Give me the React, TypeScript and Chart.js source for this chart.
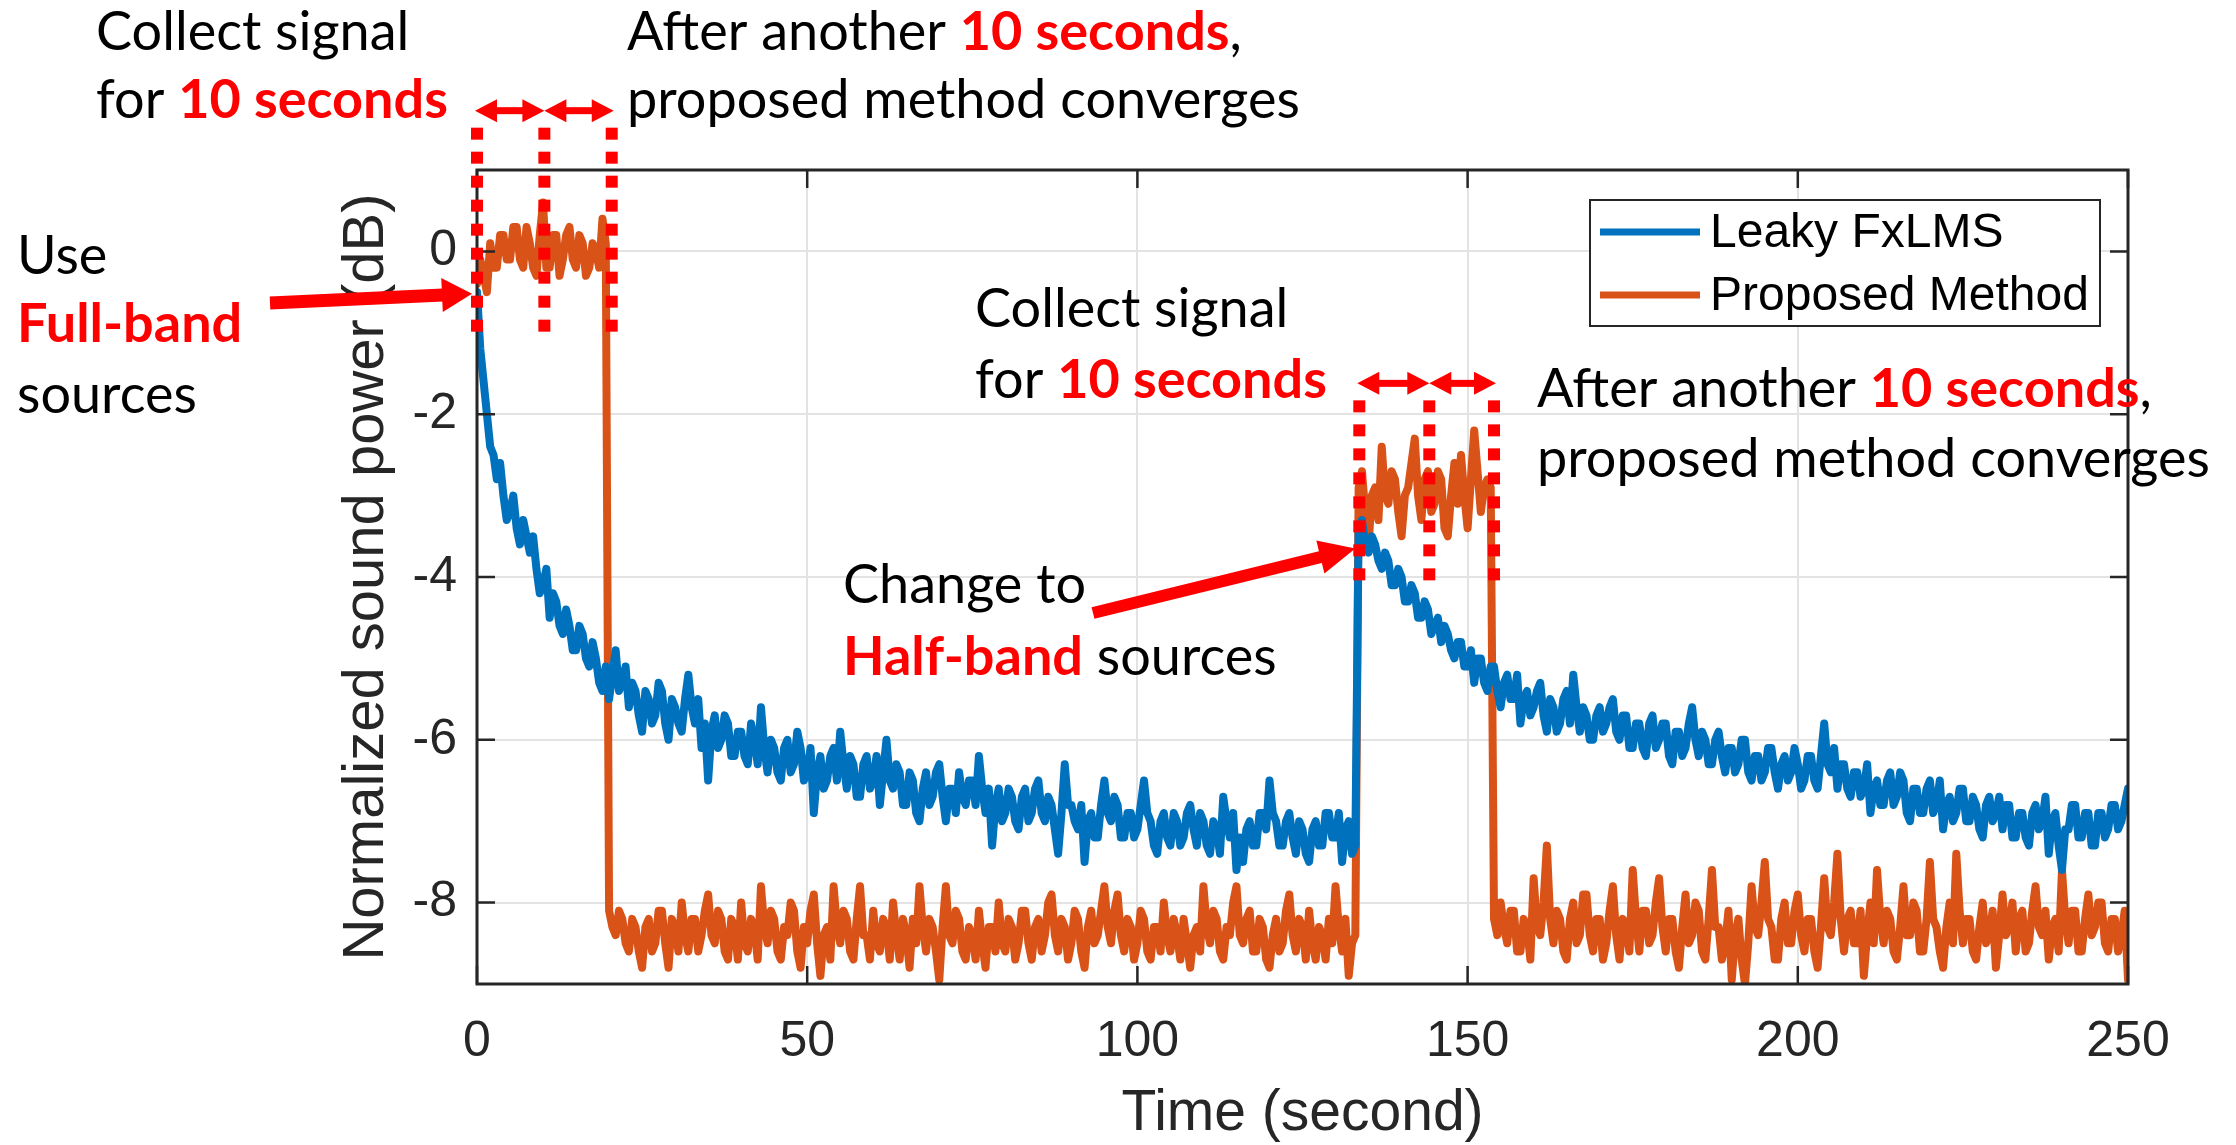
import { useEffect, useRef } from "react";
import { Chart, registerables } from "chart.js";

Chart.register(...registerables);

// ---------------- data (2 samples per second, t = 0 … 250 s) ----------------
const TIME_STEP_S = 0.5;

const LEAKY_FXLMS = [
  -0.5, -1.2, -1.6, -2.0, -2.4, -2.5, -2.8, -2.6, -3.0, -3.3,
  -3.2, -3.0, -3.4, -3.6, -3.3, -3.5, -3.7, -3.5, -3.9, -4.2,
  -4.1, -3.9, -4.5, -4.2, -4.3, -4.6, -4.7, -4.4, -4.6, -4.9,
  -4.9, -4.6, -4.7, -5.0, -5.1, -4.8, -5.0, -5.3, -5.4, -5.1,
  -5.5, -5.2, -4.9, -5.4, -5.3, -5.1, -5.6, -5.3, -5.4, -5.7,
  -5.9, -5.4, -5.5, -5.8, -5.7, -5.3, -5.4, -5.8, -6.0, -5.5,
  -5.6, -5.8, -5.9, -5.5, -5.2, -5.6, -5.8, -5.5, -6.1, -5.8,
  -6.5, -5.9, -5.7, -6.1, -6.0, -5.7, -5.8, -6.2, -6.2, -5.9,
  -5.9, -6.2, -6.3, -5.8, -6.0, -6.3, -5.6, -6.1, -6.4, -6.0,
  -6.1, -6.4, -6.5, -6.1, -6.0, -6.4, -6.3, -5.9, -6.1, -6.5,
  -6.4, -6.1, -6.9, -6.4, -6.2, -6.6, -6.5, -6.2, -6.1, -6.5,
  -5.9, -6.3, -6.6, -6.2, -6.3, -6.7, -6.7, -6.3, -6.2, -6.6,
  -6.5, -6.2, -6.8, -6.4, -6.0, -6.5, -6.6, -6.3, -6.4, -6.8,
  -6.8, -6.4, -6.5, -6.9, -7.0, -6.6, -6.4, -6.8, -6.7, -6.4,
  -6.3, -6.7, -7.0, -6.6, -6.6, -6.9, -6.4, -6.7, -6.8, -6.5,
  -6.5, -6.8, -6.2, -6.6, -6.9, -6.6, -7.3, -6.8, -6.6, -7.0,
  -6.9, -6.6, -6.7, -7.0, -7.1, -6.7, -6.6, -7.0, -6.9, -6.6,
  -6.5, -6.9, -7.0, -6.7, -6.8, -7.1, -7.4, -6.9, -6.3, -6.8,
  -6.8, -7.0, -7.1, -6.8, -7.5, -7.0, -6.9, -7.2, -7.2, -6.8,
  -6.5, -6.9, -7.0, -6.7, -6.8, -7.2, -7.2, -6.9, -6.9, -7.2,
  -7.1, -6.8, -6.5, -6.9, -7.0, -7.3, -7.4, -7.0, -6.9, -7.2,
  -7.3, -6.9, -7.0, -7.3, -7.2, -6.9, -6.8, -7.1, -7.3, -6.9,
  -7.0, -7.3, -7.4, -7.0, -7.1, -7.4, -6.7, -7.0, -7.2, -6.9,
  -7.6, -7.2, -7.5, -7.1, -7.0, -7.3, -7.3, -6.9, -6.9, -7.1,
  -6.5, -6.9, -7.0, -7.3, -7.3, -7.0, -6.9, -7.2, -7.4, -7.0,
  -7.1, -7.4, -7.5, -7.1, -7.0, -7.3, -7.3, -6.9, -6.9, -7.2,
  -7.2, -6.9, -7.5, -7.1, -7.0, -7.4, -7.3, -3.4, -3.3, -3.6,
  -3.7, -3.5, -3.6, -3.8, -3.9, -3.7, -3.8, -4.1, -4.1, -3.9,
  -4.0, -4.3, -4.3, -4.1, -4.2, -4.5, -4.5, -4.3, -4.4, -4.7,
  -4.6, -4.5, -4.8, -4.6, -4.7, -4.9, -5.0, -4.8, -4.8, -5.1,
  -5.1, -4.9, -5.3, -5.0, -5.0, -5.3, -5.4, -5.1, -5.1, -5.4,
  -5.6, -5.3, -5.2, -5.5, -5.5, -5.2, -5.8, -5.5, -5.4, -5.7,
  -5.6, -5.4, -5.3, -5.7, -5.9, -5.5, -5.6, -5.9, -5.8, -5.5,
  -5.4, -5.8, -5.2, -5.6, -5.9, -5.6, -5.7, -6.0, -6.0, -5.7,
  -5.6, -5.9, -5.8, -5.6, -5.5, -5.9, -6.0, -5.7, -5.7, -6.1,
  -6.1, -5.8, -5.8, -6.1, -6.2, -5.8, -5.7, -6.1, -6.0, -5.8,
  -5.8, -6.2, -6.3, -5.9, -5.9, -6.2, -6.1, -5.8, -5.6, -6.0,
  -6.2, -5.9, -6.0, -6.3, -6.3, -6.0, -5.9, -6.2, -6.4, -6.1,
  -6.1, -6.4, -6.3, -6.0, -6.0, -6.4, -6.5, -6.2, -6.2, -6.5,
  -6.4, -6.1, -6.1, -6.4, -6.6, -6.3, -6.2, -6.5, -6.4, -6.1,
  -6.3, -6.6, -6.5, -6.2, -6.2, -6.5, -6.6, -6.2, -5.8, -6.3,
  -6.4, -6.1, -6.6, -6.3, -6.3, -6.6, -6.7, -6.4, -6.4, -6.7,
  -6.6, -6.3, -6.9, -6.6, -6.5, -6.8, -6.8, -6.5, -6.4, -6.8,
  -6.7, -6.4, -6.5, -6.9, -7.0, -6.6, -6.6, -6.9, -6.9, -6.6,
  -6.5, -6.9, -6.8, -6.5, -7.1, -6.8, -6.7, -7.0, -6.9, -6.6,
  -6.6, -7.0, -7.0, -6.7, -6.8, -7.1, -7.2, -6.8, -6.7, -7.0,
  -6.9, -6.7, -7.1, -6.8, -6.8, -7.2, -7.2, -6.9, -6.9, -7.2,
  -7.3, -6.9, -6.8, -7.1, -7.0, -6.7, -7.4, -7.0, -6.9, -7.3,
  -7.6, -7.1, -7.1, -6.8, -6.8, -7.2, -7.2, -6.9, -6.9, -7.3,
  -7.3, -6.9, -6.9, -7.2, -7.1, -6.8, -6.8, -7.1, -7.0, -6.8,
  -6.6,
];

const PROPOSED = [
  -0.4, -0.1, -0.3, -0.5, 0.1, -0.2, -0.2, 0.2, 0.2, -0.1,
  -0.1, 0.3, 0.3, -0.1, -0.2, 0.3, 0.1, -0.2, -0.3, 0.2,
  0.6, -0.2, -0.2, 0.2, 0.2, -0.3, -0.1, 0.2, 0.3, -0.1,
  -0.2, 0.2, 0.1, -0.3, -0.2, 0.1, 0.0, -0.2, 0.4, 0.1,
  -8.1, -8.3, -8.4, -8.1, -8.2, -8.5, -8.6, -8.2, -8.3, -8.6,
  -8.8, -8.3, -8.2, -8.6, -8.5, -8.1, -8.1, -8.5, -8.8, -8.2,
  -8.3, -8.6, -8.0, -8.4, -8.6, -8.2, -8.2, -8.6, -8.4, -8.1,
  -7.9, -8.4, -8.5, -8.1, -8.2, -8.6, -8.7, -8.2, -8.3, -8.7,
  -8.0, -8.5, -8.6, -8.2, -8.3, -8.7, -7.8, -8.3, -8.5, -8.1,
  -8.2, -8.6, -8.7, -8.3, -8.4, -8.0, -8.1, -8.6, -8.8, -8.3,
  -8.5, -8.1, -7.9, -8.5, -8.9, -8.4, -8.3, -8.7, -7.8, -8.3,
  -8.5, -8.1, -8.2, -8.6, -8.7, -8.2, -7.8, -8.4, -8.4, -8.7,
  -8.1, -8.5, -8.6, -8.2, -8.3, -8.7, -8.0, -8.4, -8.7, -8.2,
  -8.4, -8.8, -8.2, -8.5, -7.8, -8.3, -8.6, -8.2, -8.3, -8.6,
  -8.95, -8.3, -7.8, -8.4, -8.5, -8.1, -8.2, -8.6, -8.7, -8.3,
  -8.4, -8.7, -8.1, -8.5, -8.8, -8.3, -8.3, -8.6, -8.0, -8.5,
  -8.6, -8.2, -8.3, -8.7, -8.5, -8.1, -8.1, -8.5, -8.7, -8.3,
  -8.2, -8.6, -8.4, -8.0, -7.9, -8.4, -8.6, -8.2, -8.3, -8.7,
  -8.5, -8.1, -8.2, -8.6, -8.8, -8.3, -8.1, -8.5, -8.4, -8.1,
  -7.8, -8.3, -8.5, -8.1, -7.9, -8.4, -8.6, -8.2, -8.3, -8.7,
  -8.5, -8.1, -8.2, -8.6, -8.7, -8.3, -8.3, -8.6, -8.0, -8.4,
  -8.6, -8.2, -8.4, -8.7, -8.2, -8.5, -8.8, -8.4, -8.3, -8.6,
  -7.8, -8.3, -8.5, -8.1, -8.2, -8.6, -8.7, -8.3, -8.4, -8.0,
  -7.8, -8.4, -8.5, -8.2, -8.1, -8.6, -8.6, -8.2, -8.3, -8.7,
  -8.8, -8.4, -8.2, -8.6, -8.5, -8.1, -7.9, -8.4, -8.6, -8.2,
  -8.3, -8.7, -8.1, -8.5, -8.7, -8.3, -8.4, -8.7, -8.2, -8.5,
  -7.8, -8.3, -8.6, -8.2, -8.9, -8.5, -8.4, -2.9, -2.7, -3.2,
  -3.6, -3.0, -2.9, -3.3, -2.4, -3.0, -3.1, -2.7, -2.8, -3.2,
  -3.5, -3.0, -2.9, -2.6, -2.3, -3.0, -3.3, -2.8, -2.7, -3.2,
  -3.1, -2.7, -2.8, -3.4, -3.5, -3.0, -2.6, -3.1, -2.5, -3.0,
  -3.4, -2.8, -2.2, -2.7, -3.2, -2.9, -2.8, -2.9, -8.2, -8.4,
  -8.0, -8.3, -8.5, -8.1, -8.1, -8.6, -8.6, -8.2, -8.3, -8.7,
  -7.7, -8.3, -8.4, -8.0, -7.3, -8.2, -8.5, -8.1, -8.2, -8.6,
  -8.7, -8.2, -8.0, -8.5, -8.4, -7.9, -7.9, -8.4, -8.6, -8.2,
  -8.2, -8.7, -8.5, -8.1, -7.8, -8.4, -8.7, -8.2, -8.3, -8.6,
  -7.6, -8.2, -8.6, -8.1, -8.1, -8.5, -8.4, -8.0, -7.7, -8.3,
  -8.6, -8.2, -8.2, -8.6, -8.8, -8.3, -7.9, -8.5, -8.4, -8.0,
  -8.1, -8.6, -8.7, -8.2, -7.6, -8.3, -8.3, -8.7, -8.5, -8.1,
  -8.95, -8.4, -8.2, -8.7, -9.0, -8.5, -7.8, -8.3, -8.4, -8.0,
  -7.5, -8.2, -8.3, -8.7, -8.7, -8.2, -8.0, -8.5, -8.5, -8.1,
  -7.9, -8.4, -8.6, -8.2, -8.2, -8.6, -8.8, -8.3, -7.7, -8.3,
  -8.4, -8.0, -7.4, -8.2, -8.6, -8.2, -8.1, -8.5, -8.5, -8.1,
  -8.9, -8.4, -8.0, -8.5, -7.6, -8.2, -8.5, -8.1, -8.2, -8.6,
  -8.7, -8.3, -7.8, -8.4, -8.4, -8.0, -8.1, -8.6, -8.6, -8.2,
  -7.5, -8.2, -8.3, -8.6, -8.8, -8.3, -8.0, -8.5, -7.4, -8.1,
  -8.5, -8.2, -8.2, -8.6, -8.7, -8.3, -8.0, -8.5, -8.4, -8.1,
  -8.8, -8.4, -7.9, -8.4, -8.3, -8.0, -8.6, -8.2, -8.1, -8.6,
  -8.5, -8.1, -7.8, -8.3, -8.4, -8.1, -8.7, -8.3, -8.2, -8.6,
  -7.6, -8.2, -8.5, -8.1, -8.1, -8.6, -8.6, -8.2, -7.9, -8.4,
  -8.3, -8.0, -8.0, -8.5, -8.6, -8.2, -8.2, -8.6, -8.4, -8.1,
  -8.95,
];

const SERIES_LABELS = ["Leaky FxLMS", "Proposed Method"];
const SERIES_COLORS = ["#0072BD", "#D95319"];
const X_TICKS = [0, 50, 100, 150, 200, 250];
const Y_TICKS = [-8, -6, -4, -2, 0];
const X_RANGE = [0, 250];
const Y_RANGE = [-9, 1];
const X_TITLE = "Time (second)";
const Y_TITLE = "Normalized sound power (dB)";

// annotation marks (seconds / dB)
const FIRST_MARKS_S = [0, 10.2, 20.4];
const SECOND_MARKS_S = [133.6, 144.2, 154.0];
const FIRST_MARK_SPAN_DB = [1.52, -1.0];
const SECOND_MARK_SPAN_DB = [-1.83, -4.32];

// annotation texts: [text, highlighted]
type Run = [string, boolean];
const NOTES: { x: number; y: number; runs: Run[] }[] = [
  { x: 96, y: 50, runs: [["Collect signal", false]] },
  { x: 96, y: 118, runs: [["for ", false], ["10 seconds", true]] },
  { x: 627, y: 50, runs: [["After another ", false], ["10 seconds", true], [",", false]] },
  { x: 627, y: 118, runs: [["proposed method converges", false]] },
  { x: 17, y: 274, runs: [["Use", false]] },
  { x: 17, y: 342, runs: [["Full-band", true]] },
  { x: 17, y: 413, runs: [["sources", false]] },
  { x: 975, y: 327, runs: [["Collect signal", false]] },
  { x: 975, y: 398, runs: [["for ", false], ["10 seconds", true]] },
  { x: 1537, y: 407, runs: [["After another ", false], ["10 seconds", true], [",", false]] },
  { x: 1537, y: 477, runs: [["proposed method converges", false]] },
  { x: 843, y: 603, runs: [["Change to", false]] },
  { x: 843, y: 675, runs: [["Half-band", true], [" sources", false]] },
];

const RED = "#FF0000";
const AXIS_COLOR = "#262626";
const NOTE_FONT = "Lato";
const NOTE_SIZE = 54;
const AXIS_FONT = "'Liberation Sans', Arial, sans-serif";

function solidArrow(ctx: CanvasRenderingContext2D, x1: number, y1: number, x2: number, y2: number, shaftW: number, headL: number, headHalf: number) {
  const ang = Math.atan2(y2 - y1, x2 - x1);
  const len = Math.hypot(x2 - x1, y2 - y1);
  ctx.save();
  ctx.translate(x1, y1);
  ctx.rotate(ang);
  ctx.fillStyle = RED;
  ctx.fillRect(0, -shaftW / 2, len - headL + 1, shaftW);
  ctx.beginPath();
  ctx.moveTo(len, 0);
  ctx.lineTo(len - headL, -headHalf);
  ctx.lineTo(len - headL, headHalf);
  ctx.closePath();
  ctx.fill();
  ctx.restore();
}

function doubleArrow(ctx: CanvasRenderingContext2D, x1: number, x2: number, y: number) {
  const headL = 22, headHalf = 11.5, shaftW = 7;
  ctx.save();
  ctx.fillStyle = RED;
  ctx.fillRect(x1 + headL - 1, y - shaftW / 2, x2 - x1 - 2 * headL + 2, shaftW);
  ctx.beginPath();
  ctx.moveTo(x1, y);
  ctx.lineTo(x1 + headL, y - headHalf);
  ctx.lineTo(x1 + headL, y + headHalf);
  ctx.closePath();
  ctx.fill();
  ctx.beginPath();
  ctx.moveTo(x2, y);
  ctx.lineTo(x2 - headL, y - headHalf);
  ctx.lineTo(x2 - headL, y + headHalf);
  ctx.closePath();
  ctx.fill();
  ctx.restore();
}

function dottedLine(ctx: CanvasRenderingContext2D, x: number, yTop: number, yBot: number) {
  ctx.save();
  ctx.fillStyle = RED;
  const dot = 12, period = 24;
  for (let yy = yTop; yy + dot <= yBot + 1; yy += period) {
    ctx.fillRect(x - dot / 2, yy, dot, dot);
  }
  ctx.restore();
}

const overlayPlugin = {
  id: "overlay",
  afterDatasetsDraw(chart: any) {
    const { ctx, chartArea: a, scales } = chart;
    const x = scales.x, y = scales.y;
    ctx.save();
    // box
    ctx.strokeStyle = AXIS_COLOR;
    ctx.lineWidth = 3;
    ctx.strokeRect(a.left, a.top, a.right - a.left, a.bottom - a.top);
    // inward ticks
    ctx.lineWidth = 2.5;
    const TL = 18;
    ctx.beginPath();
    X_TICKS.forEach((v) => {
      const px = x.getPixelForValue(v);
      ctx.moveTo(px, a.bottom);
      ctx.lineTo(px, a.bottom - TL);
      ctx.moveTo(px, a.top);
      ctx.lineTo(px, a.top + TL);
    });
    Y_TICKS.forEach((v) => {
      const py = y.getPixelForValue(v);
      ctx.moveTo(a.left, py);
      ctx.lineTo(a.left + TL, py);
      ctx.moveTo(a.right, py);
      ctx.lineTo(a.right - TL, py);
    });
    ctx.stroke();

    // legend
    const lx = a.right - 538, ly = a.top + 30, lw = 510, lh = 126;
    ctx.fillStyle = "#ffffff";
    ctx.fillRect(lx, ly, lw, lh);
    ctx.strokeStyle = AXIS_COLOR;
    ctx.lineWidth = 2;
    ctx.strokeRect(lx, ly, lw, lh);
    ctx.font = `48px ${AXIS_FONT}`;
    ctx.textBaseline = "middle";
    ctx.textAlign = "left";
    chart.data.datasets.forEach((ds: any, i: number) => {
      const rowY = ly + 32 + i * 63;
      ctx.strokeStyle = ds.borderColor;
      ctx.lineWidth = 7;
      ctx.beginPath();
      ctx.moveTo(lx + 10, rowY);
      ctx.lineTo(lx + 110, rowY);
      ctx.stroke();
      ctx.fillStyle = "#000000";
      ctx.fillText(ds.label, lx + 120, rowY + 2);
    });
    ctx.restore();
  },
  afterDraw(chart: any) {
    const { ctx, scales } = chart;
    const x = scales.x, y = scales.y;
    ctx.save();
    // dotted markers + double arrows
    const groups = [
      { marks: FIRST_MARKS_S, span: FIRST_MARK_SPAN_DB },
      { marks: SECOND_MARKS_S, span: SECOND_MARK_SPAN_DB },
    ];
    groups.forEach((g) => {
      const yTop = y.getPixelForValue(g.span[0]);
      const yBot = y.getPixelForValue(g.span[1]);
      const xs = g.marks.map((t) => x.getPixelForValue(t));
      xs.forEach((px) => dottedLine(ctx, px, yTop, yBot));
      doubleArrow(ctx, xs[0] - 2, xs[1], yTop - 17);
      doubleArrow(ctx, xs[1], xs[2] + 2, yTop - 17);
    });
    // pointing arrows
    solidArrow(ctx, 270, 303, x.getPixelForValue(0) - 5, y.getPixelForValue(-0.52), 13, 30, 17);
    solidArrow(ctx, 1093, 613, x.getPixelForValue(133.0), y.getPixelForValue(-3.65), 12, 36, 17);

    // texts
    ctx.textBaseline = "alphabetic";
    ctx.textAlign = "left";
    NOTES.forEach((n) => {
      let cx = n.x;
      n.runs.forEach(([text, hi]) => {
        ctx.font = hi ? `bold ${NOTE_SIZE}px ${NOTE_FONT}` : `${NOTE_SIZE}px ${NOTE_FONT}`;
        ctx.fillStyle = hi ? RED : "#000000";
        ctx.fillText(text, cx, n.y);
        cx += ctx.measureText(text).width;
      });
    });
    ctx.restore();
  },
};

export default function App() {
  const canvasRef = useRef<HTMLCanvasElement | null>(null);

  useEffect(() => {
    const canvas = canvasRef.current;
    if (!canvas) return;
    const toPoints = (arr: number[]) => arr.map((v, i) => ({ x: i * TIME_STEP_S, y: v }));
    const chart = new Chart(canvas, {
      type: "line",
      data: {
        datasets: [
          {
            label: SERIES_LABELS[0],
            data: toPoints(LEAKY_FXLMS),
            borderColor: SERIES_COLORS[0],
            backgroundColor: SERIES_COLORS[0],
            borderWidth: 8,
            pointRadius: 0,
            tension: 0,
            borderJoinStyle: "round",
            borderCapStyle: "round",
          },
          {
            label: SERIES_LABELS[1],
            data: toPoints(PROPOSED),
            borderColor: SERIES_COLORS[1],
            backgroundColor: SERIES_COLORS[1],
            borderWidth: 8,
            pointRadius: 0,
            tension: 0,
            borderJoinStyle: "round",
            borderCapStyle: "round",
          },
        ],
      },
      options: {
        animation: false,
        responsive: false,
        devicePixelRatio: 1,
        layout: { padding: { left: 0, right: 108, top: 170, bottom: 0 } },
        plugins: { legend: { display: false }, tooltip: { enabled: false } },
        scales: {
          x: {
            type: "linear",
            min: X_RANGE[0],
            max: X_RANGE[1],
            afterBuildTicks: (s: any) => {
              s.ticks = X_TICKS.map((v) => ({ value: v }));
            },
            afterFit: (s: any) => {
              s.height = 161;
            },
            grid: { color: "#e3e3e3", lineWidth: 2, drawTicks: false },
            border: { display: false },
            ticks: {
              padding: 28,
              color: AXIS_COLOR,
              font: { family: AXIS_FONT, size: 50 },
              maxRotation: 0,
            },
            title: {
              display: true,
              text: X_TITLE,
              color: AXIS_COLOR,
              font: { family: AXIS_FONT, size: 57 },
              padding: { top: 0, bottom: -3 },
            },
          },
          y: {
            type: "linear",
            min: Y_RANGE[0],
            max: Y_RANGE[1],
            afterBuildTicks: (s: any) => {
              s.ticks = Y_TICKS.map((v) => ({ value: v }));
            },
            afterFit: (s: any) => {
              s.width = 477;
            },
            grid: { color: "#e3e3e3", lineWidth: 2, drawTicks: false },
            border: { display: false },
            ticks: {
              padding: 20,
              color: AXIS_COLOR,
              font: { family: AXIS_FONT, size: 50 },
            },
            title: {
              display: true,
              text: Y_TITLE,
              color: AXIS_COLOR,
              font: { family: AXIS_FONT, size: 58 },
              padding: { top: 332, bottom: 0 },
            },
          },
        },
      },
      plugins: [overlayPlugin],
    } as any);
    return () => chart.destroy();
  }, []);

  return (
    <div style={{ position: "absolute", left: 0, top: 0, width: 2236, height: 1145, background: "#fff" }}>
      <canvas ref={canvasRef} width={2236} height={1145} style={{ width: 2236, height: 1145, display: "block" }} />
    </div>
  );
}
